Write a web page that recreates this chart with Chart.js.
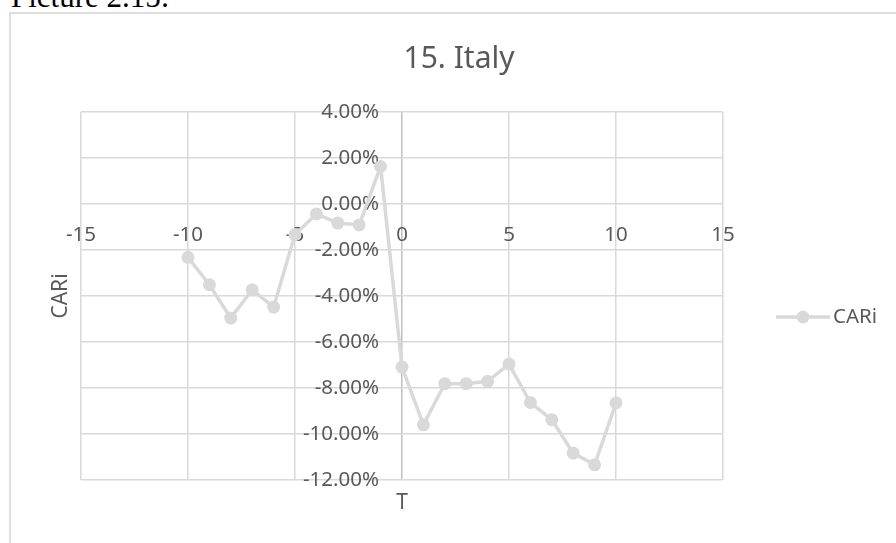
<!DOCTYPE html>
<html>
<head>
<meta charset="utf-8">
<script src="https://cdn.jsdelivr.net/npm/chart.js@4"></script>
<style>
  html, body { margin: 0; padding: 0; background: #fff; overflow: hidden; }
  #caption { position: absolute; left: 11px; top: -19px; font: 31px/31px "Liberation Serif", serif; color: #000; white-space: nowrap; }
  #frame { position: absolute; left: 9px; top: 12px; width: 896px; height: 560px; border: 2px solid #dedede; }
</style>
</head>
<body>
<div id="caption">Picture 2.15:</div>
<div id="frame"><canvas id="chart"></canvas></div>
<script>
// event window, days around the announcement
const tValues = [-10, -9, -8, -7, -6, -5, -4, -3, -2, -1, 0, 1, 2, 3, 4, 5, 6, 7, 8, 9, 10];
// cumulative abnormal return, in percent
const cariValues = [-2.32, -3.51, -4.96, -3.73, -4.48, -1.33, -0.43, -0.83, -0.91, 1.63,
  -7.09, -9.60, -7.81, -7.81, -7.71, -6.96, -8.63, -9.38, -10.83, -11.34, -8.65];

const xTickValues = [-15, -10, -5, 0, 5, 10, 15];
const yTickValues = [-12, -10, -8, -6, -4, -2, 0, 2, 4];

const textColor = '#595959';
const gridColor = '#d9d9d9';
const seriesColor = '#d9d9d9';
const font = '"Noto Sans", sans-serif';

const pct = v => v.toFixed(2) + '%';

// tick labels sit next to the crossing axes, titles and legend drawn by hand
const axisText = {
  id: 'axisText',
  beforeDatasetsDraw(chart) {
    const {ctx, scales: {x, y}} = chart;
    const x0 = x.getPixelForValue(0);
    const y0 = y.getPixelForValue(0);
    ctx.save();
    ctx.fillStyle = textColor;
    ctx.font = '20.5px ' + font;
    ctx.textBaseline = 'middle';
    ctx.textAlign = 'right';
    y.ticks.forEach(t => ctx.fillText(pct(t.value), x0 - 23, y.getPixelForValue(t.value)));
    ctx.textAlign = 'center';
    x.ticks.forEach(t => ctx.fillText(String(t.value), x.getPixelForValue(t.value), y0 + 31));
    ctx.restore();
  },
  afterDraw(chart) {
    const {ctx, chartArea: a, width} = chart;
    const ds = chart.data.datasets[0];
    ctx.save();
    ctx.fillStyle = textColor;

    ctx.font = '30px ' + font;
    ctx.textAlign = 'center';
    ctx.textBaseline = 'alphabetic';
    ctx.fillText('15. Italy', width / 2, 54);

    ctx.font = '21px ' + font;
    ctx.textBaseline = 'middle';
    ctx.fillText('T', (a.left + a.right) / 2, 489);
    ctx.save();
    ctx.translate(50, (a.top + a.bottom) / 2);
    ctx.rotate(-Math.PI / 2);
    ctx.fillText(ds.label, 0, 0);
    ctx.restore();

    // legend: line with a marker in the middle
    const ly = 303;
    ctx.strokeStyle = ds.borderColor;
    ctx.lineWidth = ds.borderWidth;
    ctx.beginPath();
    ctx.moveTo(765, ly);
    ctx.lineTo(819, ly);
    ctx.stroke();
    ctx.fillStyle = ds.backgroundColor;
    ctx.beginPath();
    ctx.arc(792, ly, ds.pointRadius, 0, Math.PI * 2);
    ctx.fill();
    ctx.fillStyle = textColor;
    ctx.font = '20.5px ' + font;
    ctx.textAlign = 'left';
    ctx.fillText(ds.label, 822, ly);
    ctx.restore();
  }
};

new Chart(document.getElementById('chart'), {
  type: 'scatter',
  data: {
    datasets: [{
      label: 'CARi',
      data: tValues.map((t, i) => ({x: t, y: cariValues[i]})),
      showLine: true,
      borderColor: seriesColor,
      backgroundColor: seriesColor,
      borderWidth: 3.5,
      pointRadius: 6.5,
      pointHoverRadius: 6.5,
      pointBorderWidth: 0,
      clip: false
    }]
  },
  options: {
    responsive: true,
    maintainAspectRatio: false,
    animation: false,
    layout: {padding: {left: 70, top: 98, right: 184, bottom: 94}},
    plugins: {
      legend: {display: false},
      title: {display: false},
      tooltip: {enabled: false}
    },
    scales: {
      x: {
        type: 'linear',
        min: -15,
        max: 15,
        afterBuildTicks: s => { s.ticks = xTickValues.map(v => ({value: v})); },
        ticks: {display: false},
        border: {display: false},
        grid: {
          drawTicks: false,
          lineWidth: 1.5,
          color: c => (c.tick && c.tick.value === 0 ? '#bfbfbf' : gridColor)
        }
      },
      y: {
        type: 'linear',
        min: -12,
        max: 4,
        afterBuildTicks: s => { s.ticks = yTickValues.map(v => ({value: v})); },
        ticks: {display: false},
        border: {display: false},
        grid: {drawTicks: false, lineWidth: 1.5, color: gridColor}
      }
    }
  },
  plugins: [axisText]
});
</script>
</body>
</html>
